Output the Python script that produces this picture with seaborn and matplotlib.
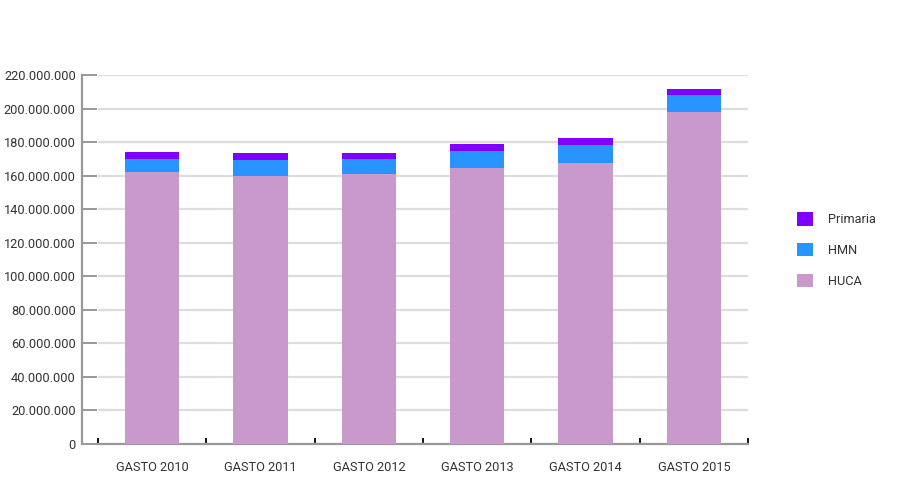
import matplotlib
matplotlib.use("Agg")
import matplotlib.pyplot as plt
import matplotlib.ticker as mticker
from matplotlib.patches import Patch
import seaborn as sns
import pandas as pd
import numpy as np

categories = ["GASTO 2010", "GASTO 2011", "GASTO 2012", "GASTO 2013", "GASTO 2014", "GASTO 2015"]
huca = [162_000_000, 159_700_000, 161_200_000, 164_600_000, 167_500_000, 198_200_000]
hmn = [7_700_000, 9_400_000, 8_700_000, 10_100_000, 10_700_000, 9_700_000]
primaria = [4_200_000, 4_100_000, 3_500_000, 4_100_000, 4_000_000, 3_500_000]
y_ticks = list(range(0, 220_000_001, 20_000_000))

colors = {"Primaria": "#8000FF", "HMN": "#2894FF", "HUCA": "#CA99CB"}

sns.set_theme(style="white")
plt.rcParams["font.family"] = ["Roboto", "DejaVu Sans"]

df = pd.DataFrame({"cat": categories, "HUCA": huca, "HMN": hmn, "Primaria": primaria})
df["t_huca"] = df["HUCA"]
df["t_hmn"] = df["HUCA"] + df["HMN"]
df["t_prim"] = df["t_hmn"] + df["Primaria"]

fig = plt.figure(figsize=(9, 5), dpi=100)
ax = fig.add_axes([98 / 900, 1 - 444 / 500, 650 / 900, 369 / 500])

for col, name in [("t_prim", "Primaria"), ("t_hmn", "HMN"), ("t_huca", "HUCA")]:
    sns.barplot(data=df, x="cat", y=col, color=colors[name], width=0.5,
                saturation=1, ax=ax, zorder=3, edgecolor="none", linewidth=0)

ax.set_xlim(-0.5, len(categories) - 0.5)
ax.set_ylim(0, 220_000_000)
ax.set_xlabel("")
ax.set_ylabel("")
ax.set_yticks(y_ticks)
ax.yaxis.set_major_formatter(mticker.FuncFormatter(lambda v, p: f"{v:,.0f}".replace(",", ".")))

ax.grid(axis="y", color="#DDDDDD", linewidth=1.6, zorder=0)
ax.set_axisbelow(True)

for s in ["top", "right"]:
    ax.spines[s].set_visible(False)
ax.spines["left"].set_position(("outward", 11.5))
ax.spines["left"].set_color("#999999")
ax.spines["left"].set_linewidth(1.6)
ax.spines["bottom"].set_color("#999999")
ax.spines["bottom"].set_linewidth(1.6)

ax.tick_params(axis="y", direction="in", length=11, width=1.4, color="#999999",
               labelsize=9.2, labelcolor="#333333", pad=4.5, left=True)
ax.set_xticks(np.arange(len(categories)))
ax.set_xticklabels(categories)
ax.set_xticks(np.arange(len(categories) + 1) - 0.5, minor=True)
ax.tick_params(axis="x", which="major", length=0, labelsize=9.2, labelcolor="#333333", pad=12)
ax.tick_params(axis="x", which="minor", direction="in", length=4.5, width=1.4,
               color="#111111", bottom=True)

handles = [Patch(facecolor=colors[n], edgecolor="none", label=n) for n in ["Primaria", "HMN", "HUCA"]]
fig.legend(handles=handles, loc="center left", bbox_to_anchor=(797 / 900, 0.5),
           frameon=False, fontsize=9.2, labelcolor="#333333", handlelength=1.25,
           handleheight=1.25, labelspacing=1.3, handletextpad=1.2,
           borderaxespad=0, borderpad=0)

fig.savefig("out.png", dpi=100)
